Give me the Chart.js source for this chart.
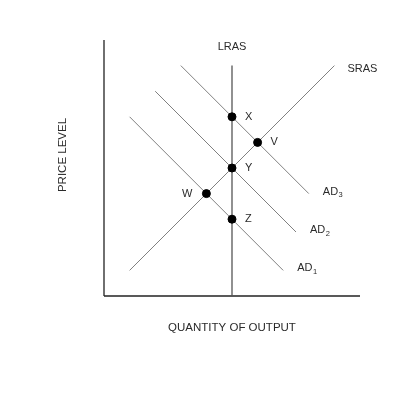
<!DOCTYPE html>
<html>
<head>
<meta charset="utf-8">
<script src="https://cdn.jsdelivr.net/npm/chart.js@4.4.1/dist/chart.umd.min.js"></script>
<style>
  body { margin: 0; background: #fff; }
  #wrap { width: 400px; height: 400px; }
</style>
</head>
<body>
<div id="wrap"><canvas id="adas" width="400" height="400"></canvas></div>
<script>
// equilibrium points
var pointNames = ['X', 'V', 'Y', 'W', 'Z'];
var pointX = [5, 6, 5, 4, 5];
var pointY = [7, 6, 5, 4, 3];

// aggregate demand curves (start / end)
var adNames = ['1', '2', '3'];
var adStartX = [1, 2, 3];
var adStartY = [7, 8, 9];
var adEndX = [7, 7.5, 8];
var adEndY = [1, 2.5, 4];

// supply curves
var srasX = [1, 9];
var srasY = [1, 9];
var lrasX = [5, 5];
var lrasY = [0, 9];

var axisMax = 10;

function seg(xs, ys) {
  return xs.map(function (x, i) { return { x: x, y: ys[i] }; });
}

var datasets = [];
datasets.push({
  label: 'points',
  data: seg(pointX, pointY),
  showLine: false,
  pointRadius: 4,
  pointBackgroundColor: '#000',
  pointBorderColor: '#000',
  order: 0
});
adNames.forEach(function (n, i) {
  datasets.push({
    label: 'AD' + n,
    data: seg([adStartX[i], adEndX[i]], [adStartY[i], adEndY[i]]),
    showLine: true, borderColor: '#808080', borderWidth: 1, pointRadius: 0, order: 2
  });
});
datasets.push({ label: 'SRAS', data: seg(srasX, srasY), showLine: true, borderColor: '#808080', borderWidth: 1, pointRadius: 0, order: 2 });
datasets.push({ label: 'LRAS', data: seg(lrasX, lrasY), showLine: true, borderColor: '#555', borderWidth: 1.3, pointRadius: 0, order: 1 });
// axes
datasets.push({ label: 'yaxis', data: seg([0, 0], [0, axisMax]), showLine: true, borderColor: '#222', borderWidth: 1.3, pointRadius: 0, clip: false, order: 1 });
datasets.push({ label: 'xaxis', data: seg([0, axisMax], [0, 0]), showLine: true, borderColor: '#222', borderWidth: 1.3, pointRadius: 0, clip: false, order: 1 });

var FONT = '"Liberation Sans", Arial, sans-serif';

var labelPlugin = {
  id: 'labels',
  afterDatasetsDraw: function (chart) {
    var ctx = chart.ctx, sx = chart.scales.x, sy = chart.scales.y;
    ctx.save();
    ctx.fillStyle = '#2a2a2a';
    ctx.font = '11px ' + FONT;
    ctx.textBaseline = 'middle';

    pointNames.forEach(function (n, i) {
      var px = sx.getPixelForValue(pointX[i]), py = sy.getPixelForValue(pointY[i]);
      if (n === 'W') { ctx.textAlign = 'right'; ctx.fillText(n, px - 14, py); }
      else { ctx.textAlign = 'left'; ctx.fillText(n, px + 13, py); }
    });

    adNames.forEach(function (n, i) {
      var px = sx.getPixelForValue(adEndX[i]) + 14, py = sy.getPixelForValue(adEndY[i]) - 2;
      ctx.textAlign = 'left';
      ctx.font = '11px ' + FONT;
      ctx.fillText('AD', px, py);
      var w = ctx.measureText('AD').width;
      ctx.font = '7.5px ' + FONT;
      ctx.fillText(n, px + w + 0.5, py + 3.5);
    });

    ctx.font = '11px ' + FONT;
    ctx.textAlign = 'left';
    ctx.fillText('SRAS', sx.getPixelForValue(srasX[1]) + 13, sy.getPixelForValue(srasY[1]) + 3);
    ctx.textAlign = 'center';
    ctx.fillText('LRAS', sx.getPixelForValue(lrasX[1]), sy.getPixelForValue(lrasY[1]) - 19);

    // axis titles
    ctx.font = '11.5px ' + FONT;
    ctx.fillText('QUANTITY OF OUTPUT', (sx.left + sx.right) / 2, sy.bottom + 32);
    ctx.translate(sx.left - 41, (sy.top + sy.bottom) / 2 - 13);
    ctx.rotate(-Math.PI / 2);
    ctx.fillText('PRICE LEVEL', 0, 0);
    ctx.restore();
  }
};

new Chart(document.getElementById('adas').getContext('2d'), {
  type: 'scatter',
  data: { datasets: datasets },
  options: {
    responsive: false,
    animation: false,
    devicePixelRatio: 1,
    layout: { padding: { left: 104, right: 40, top: 40, bottom: 104 } },
    plugins: { legend: { display: false }, tooltip: { enabled: false } },
    scales: {
      x: { type: 'linear', min: 0, max: axisMax, display: false },
      y: { type: 'linear', min: 0, max: axisMax, display: false }
    }
  },
  plugins: [labelPlugin]
});
</script>
</body>
</html>
